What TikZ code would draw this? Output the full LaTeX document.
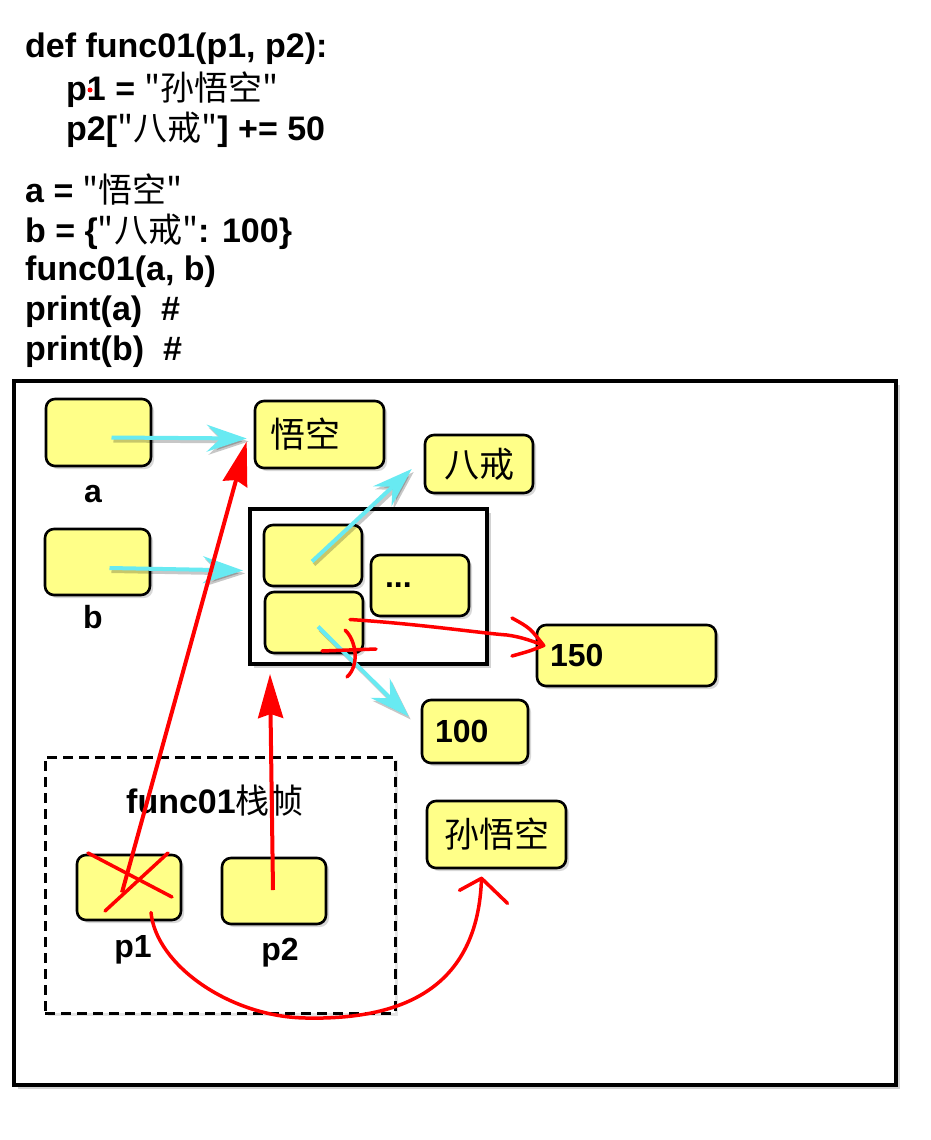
\documentclass[tikz,border=0pt]{standalone}
\usepackage{fontspec}
\setmainfont{Liberation Sans}
\newfontfamily\cjk{Noto Sans CJK SC}
\usetikzlibrary{arrows.meta,shadows,calc}
\definecolor{boxyellow}{RGB}{255,255,136}
\definecolor{arrowcyan}{RGB}{104,234,242}
\newcommand{\C}[1]{{\mdseries\cjk #1}}
\newcommand{\cyanarrow}[2]{\draw[cshadow] #1 -- #2; \draw[carrow] #1 -- #2;}
\begin{document}
\begin{tikzpicture}[x=1pt,y=-1pt,
  big/.style={font=\fontsize{32}{38}\selectfont\bfseries},
  cbig/.style={font=\fontsize{35}{40}\selectfont\bfseries},
  code/.style={font=\fontsize{34}{40}\selectfont\bfseries, inner sep=0pt, anchor=base west},
  lbl/.style={big, inner sep=0pt, anchor=base},
  ybox/.style={big, draw=black, line width=2.6pt, rounded corners=9pt, fill=boxyellow, inner sep=0pt,
    drop shadow={opacity=0.3, shadow xshift=3pt, shadow yshift=-3pt}},
  frame/.style={draw=black, line width=4pt, fill=white, inner sep=0pt,
    drop shadow={opacity=0.35, shadow xshift=4pt, shadow yshift=-4pt}},
  dashframe/.style={draw=black, line width=3pt, dash pattern=on 10pt off 6pt, fill=white, inner sep=0pt,
    drop shadow={opacity=0.2, shadow xshift=3pt, shadow yshift=-3pt}},
  carrow/.style={draw=arrowcyan, line width=4pt, -{Stealth[length=40pt,width=27pt,inset=14pt]}},
  cshadow/.style={draw=black, opacity=0.22, line width=4pt, -{Stealth[length=40pt,width=27pt,inset=14pt]},
    transform canvas={shift={(2pt,-3pt)}}},
  redarrow/.style={draw=red, line width=4pt, -{Stealth[length=44pt,width=25pt,inset=4pt]}},
  redline/.style={draw=red, line width=3.5pt, line cap=round, line join=round}
]
\useasboundingbox (0,0) rectangle (930,1140);

% code
\node[code] (l1) at (25,57) {def func01(p1, p2):};
\node[code] (l2) at (66,100) {p1 = \C{"孙悟空"}};
\node[code] (l3) at (66,140) {p2[\C{"八戒"}] += 50};
\node[code] (l4) at (25,202) {a = \C{"悟空"}};
\node[code] (l5) at (25,242) {b = \{\C{"八戒"}: 100\}};
\node[code] (l6) at (25,280) {func01(a, b)};
\node[code] (l7) at (25,320) {print(a)~~\#};
\node[code] (l8) at (25,360) {print(b)~~\#};
\fill[red] (90,90) circle (2.5);

% frames
\node[frame, minimum width=882, minimum height=704] (outer) at (455,733) {};
\node[frame, minimum width=237, minimum height=155] (dict) at (368.5,586.5) {};
\node[dashframe, minimum width=350, minimum height=256] (fr) at (220,885) {};

% boxes
\node[ybox, minimum width=105, minimum height=67] (a) at (98.5,432.5) {};
\node[ybox, minimum width=105, minimum height=66] (b) at (97.5,562) {};
\node[ybox, cbig, minimum width=129, minimum height=67, text width=99, align=left] (wk) at (319.5,434.5) {\C{悟空}};
\node[ybox, cbig, minimum width=108, minimum height=58, align=center] (bj) at (479,464) {\C{八戒}};
\node[ybox, minimum width=98, minimum height=61] (k1) at (313,555.5) {};
\node[ybox, minimum width=98, minimum height=61] (k2) at (314,622.5) {};
\node[ybox, minimum width=98, minimum height=61, text width=70, align=left] (dots) at (420,585.5) {...};
\node[ybox, minimum width=179, minimum height=61, text width=153, align=left] (v150) at (626.5,655.5) {150};
\node[ybox, minimum width=106, minimum height=63, text width=80, align=left] (v100) at (475,731.5) {100};
\node[ybox, cbig, minimum width=139, minimum height=67, align=center] (swk) at (496.5,834.5) {\C{孙悟空}};
\node[ybox, minimum width=104, minimum height=65] (p1) at (129,887.5) {};
\node[ybox, minimum width=104, minimum height=66] (p2) at (274,891) {};

% labels
\node[lbl] (la) at (93,502) {a};
\node[lbl] (lb) at (93,628) {b};
\node[lbl] (lp1) at (133,957) {p1};
\node[lbl] (lp2) at (280,960) {p2};
\node[lbl, font=\fontsize{34}{40}\selectfont\bfseries] (ft) at (215,813) {func01\C{栈帧}};

% cyan arrows
\cyanarrow{($(a.center)+(13,5)$)}{($(wk.west)+(-7,4)$)}
\cyanarrow{($(b.center)+(12,6)$)}{($(dict.west)+(-5,-16)$)}
\cyanarrow{($(k1.center)+(-1,6)$)}{($(bj.west)+(-12,5)$)}
\cyanarrow{($(k2.center)+(4,4)$)}{($(v100.west)+(-12,-15)$)}

% red straight arrows
\draw[redarrow] ($(p1.center)+(-7,5)$) -- ($(wk.west)+(-7,7)$);
\draw[redarrow] ($(p2.center)+(-1,-1)$) -- ($(dict.south west)+(22,8)$);

% red cross on p1
\draw[redline] (88,853) -- (172,897);
\draw[redline] (105,911) -- (168,853);

% red curve p1 -> swk
\coordinate (s1) at ($(p1.center)+(22,25)$);
\coordinate (t1) at ($(swk.south)+(-15,9)$);
\draw[redline] (s1) .. controls (156,965) and (230,1017) .. (306,1018)
  .. controls (400,1020) and (478,990) .. (t1);
\draw[redline] ($(t1)+(-22,12)$) -- (t1) -- ($(t1)+(26,25)$);

% red curve k2 -> 150
\coordinate (s2) at ($(k2.center)+(36,-3)$);
\coordinate (t2) at ($(v150.west)+(8,-10)$);
\draw[redline] (s2) .. controls (420,624) and (480,633) .. (507,635)
  .. controls (522,637) and (535,642) .. (t2);
\draw[redline] (512,618) .. controls (530,628) .. (t2) .. controls (530,651) .. (512,656);

% cut mark
\draw[redline] (322,651) -- (376,649);
\draw[redline] (345,630) .. controls (356,640) and (360,665) .. (347,677);
\end{tikzpicture}
\end{document}
